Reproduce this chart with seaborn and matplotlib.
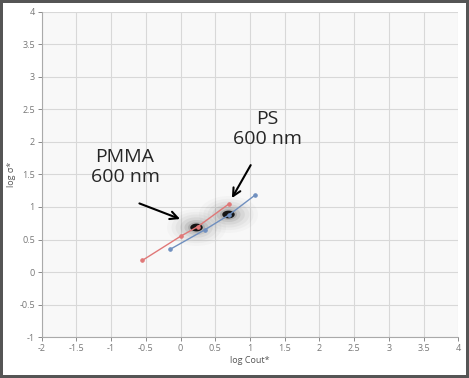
import numpy as np
import matplotlib
matplotlib.use("Agg")
import matplotlib.pyplot as plt
import seaborn as sns

# data
pmma_x = [-0.55, 0.0, 0.25, 0.7]
pmma_y = [0.18, 0.55, 0.70, 1.05]
ps_x = [-0.15, 0.35, 0.7, 1.07]
ps_y = [0.35, 0.65, 0.88, 1.18]
blob_x = [0.22, 0.68]
blob_y = [0.69, 0.90]
xticks = np.arange(-2, 4.01, 0.5)
yticks = np.arange(-1, 4.01, 0.5)

sns.set_style("whitegrid")
plt.rcParams['font.family'] = ['Open Sans', 'DejaVu Sans']

fig = plt.figure(figsize=(4.69, 3.78), dpi=100, linewidth=3, edgecolor='#555555')
ax = fig.add_axes([0.089, 0.108, 0.888, 0.861])
ax.set_facecolor('#f8f8f8')

# blurred blobs, stretched sideways
t = np.linspace(0, 2 * np.pi, 60)
ellipse = np.column_stack([1.6 * np.cos(t), np.sin(t)])
for s, a in [(1800, 0.03), (1300, 0.045), (900, 0.06), (550, 0.09), (300, 0.14), (150, 0.22)]:
    ax.scatter(blob_x, blob_y, s=s, color='#606060', alpha=a, lw=0, marker=ellipse, zorder=2)
ax.scatter(blob_x, blob_y, s=80, color='#151515', marker=ellipse, lw=0, zorder=3)

sns.lineplot(x=pmma_x, y=pmma_y, ax=ax, color='#e07878', lw=1, marker='o', ms=2.5,
             mec='#e07878', sort=False, zorder=4)
sns.lineplot(x=ps_x, y=ps_y, ax=ax, color='#6f8fbf', lw=1, marker='o', ms=2.5,
             mec='#6f8fbf', sort=False, zorder=4)

ax.set_xlim(-2, 4)
ax.set_ylim(-1, 4)
ax.set_xticks(xticks)
ax.set_yticks(yticks)
ax.set_xticklabels([f"{v:g}" for v in xticks])
ax.set_yticklabels([f"{v:g}" for v in yticks])
ax.tick_params(labelsize=6.5, colors='#777777', length=3, width=0.6, direction='out',
               left=True, bottom=True, pad=2)
ax.grid(color='#d8d8d8', lw=0.8)
for side in ['top', 'right']:
    ax.spines[side].set_visible(False)
for side in ['left', 'bottom']:
    ax.spines[side].set_color('#aaaaaa')
    ax.spines[side].set_linewidth(0.8)

ax.set_xlabel("log Cout*", fontsize=6.5, color='#555555', labelpad=2)
ax.set_ylabel("log σ*", fontsize=6.5, color='#555555', labelpad=2)

ax.text(-0.8, 1.62, "PMMA\n600 nm", fontsize=14, ha='center', va='center',
        linespacing=1.15)
ax.text(1.25, 2.2, "PS\n600 nm", fontsize=14, ha='center', va='center',
        linespacing=1.15)
ax.annotate("", xy=(0.03, 0.80), xytext=(-0.63, 1.07),
            arrowprops=dict(arrowstyle='->', color='black', lw=1.5, mutation_scale=14))
ax.annotate("", xy=(0.72, 1.1), xytext=(1.03, 1.68),
            arrowprops=dict(arrowstyle='->', color='black', lw=1.5, mutation_scale=14))

fig.savefig("out.png", dpi=100, edgecolor=fig.get_edgecolor())
